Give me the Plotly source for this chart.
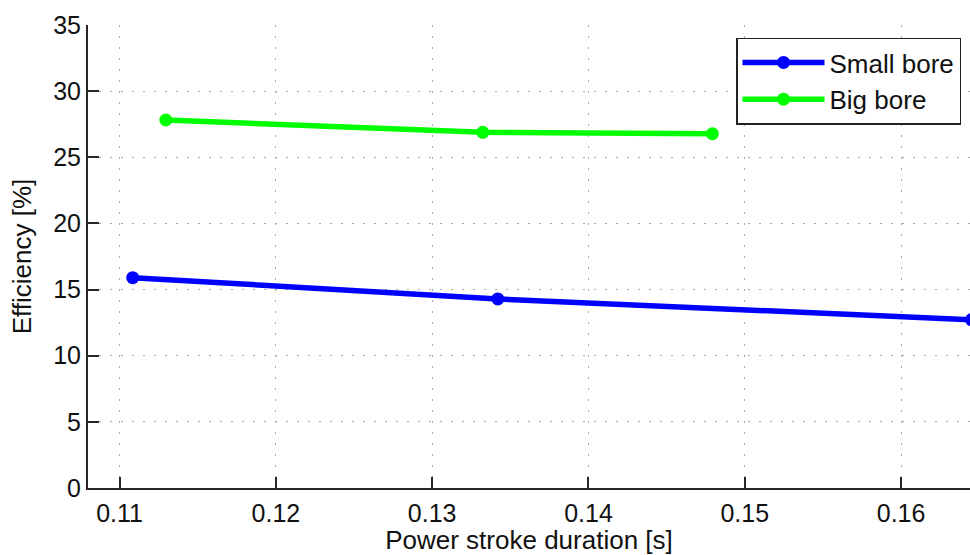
import plotly.graph_objects as go

small_x = [0.11084, 0.13420, 0.16450]
small_y = [15.9, 14.29, 12.72]
big_x = [0.11296, 0.13324, 0.14793]
big_y = [27.82, 26.89, 26.78]

x_ticks = [0.11, 0.12, 0.13, 0.14, 0.15, 0.16]
x_tick_labels = ["0.11", "0.12", "0.13", "0.14", "0.15", "0.16"]
y_ticks = [0, 5, 10, 15, 20, 25, 30, 35]

FONT = "Liberation Sans, Arial, Helvetica, sans-serif"

fig = go.Figure()
fig.add_trace(go.Scatter(x=small_x, y=small_y, mode="lines+markers", name="Small bore",
                         line=dict(color="#0000ff", width=5.5), marker=dict(color="#0000ff", size=13)))
fig.add_trace(go.Scatter(x=big_x, y=big_y, mode="lines+markers", name="Big bore",
                         line=dict(color="#00ff00", width=5.5), marker=dict(color="#00ff00", size=13)))

axis_common = dict(
    showline=True, linecolor="#262626", linewidth=2,
    ticks="inside", ticklen=11, tickwidth=2, tickcolor="#262626",
    showgrid=True, gridcolor="#a8a8a8", gridwidth=1.3, griddash="2px,9px",
    zeroline=False, mirror=False,
    tickfont=dict(family=FONT, size=25, color="#111"),
)

fig.update_xaxes(range=[0.10798, 0.16441], tickvals=x_ticks, ticktext=x_tick_labels,
                 title=dict(text="Power stroke duration [s]", font=dict(family=FONT, size=26, color="#111"), standoff=4),
                 ticklabelstandoff=2, **axis_common)
fig.update_yaxes(range=[0, 35], tickvals=y_ticks,
                 title=dict(text="Efficiency [%]", font=dict(family=FONT, size=26, color="#111"), standoff=14),
                 ticklabelstandoff=0, **axis_common)

fig.update_layout(
    width=970, height=555,
    margin=dict(l=88, r=0, t=25, b=67, pad=0),
    paper_bgcolor="white", plot_bgcolor="white",
    font=dict(family=FONT, color="#111"),
    legend=dict(x=0.7347, y=0.973, xanchor="left", yanchor="top",
                bgcolor="white", bordercolor="#222", borderwidth=1.5,
                font=dict(family=FONT, size=26, color="#111"),
                itemwidth=82, tracegroupgap=0),
    showlegend=True,
)

fig.write_html("out.html")
